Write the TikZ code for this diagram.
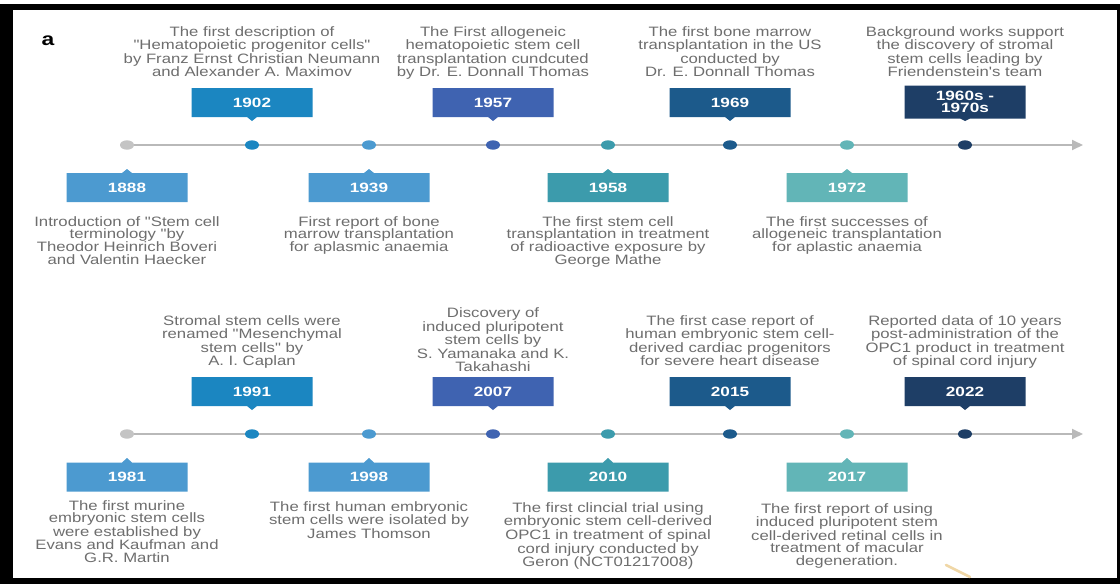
\documentclass[tikz,border=0pt]{standalone}
\usepackage{fontspec}
\setmainfont{Liberation Sans}
\newfontfamily\descfamily[FakeStretch=1.23]{Liberation Sans}
\newfontfamily\yearfamily[FakeStretch=1.27]{Liberation Sans}
\usetikzlibrary{shapes.geometric,shapes.callouts,arrows.meta,backgrounds}

\definecolor{txtgray}{HTML}{6E6E6E}
\definecolor{linegray}{HTML}{B9B9B9}
\definecolor{dotgray}{HTML}{C4C4C4}
\definecolor{cMid}{HTML}{1B86C1}
\definecolor{cLight}{HTML}{4C9AD0}
\definecolor{cIndigo}{HTML}{3F63B1}
\definecolor{cTeal}{HTML}{3C9BAC}
\definecolor{cDark}{HTML}{1C5A8B}
\definecolor{cPale}{HTML}{62B5B7}
\definecolor{cNavy}{HTML}{1E3E66}
\definecolor{pencil}{HTML}{F0D7A6}

\begin{document}
\begin{tikzpicture}[x=1pt,y=-1pt,
  desc/.style={font=\descfamily\fontsize{13.6}{13.5}\selectfont, text=txtgray,
    align=center, inner sep=0pt,
    execute at begin node=\strut, execute at end node=\strut},
  desclow/.style={desc, font=\descfamily\fontsize{13.6}{12.9}\selectfont},
  desctight/.style={desc, font=\descfamily\fontsize{13.6}{12.5}\selectfont},
  yearbox/.style={rectangle callout, fill=#1, minimum width=121pt,
    minimum height=29pt, inner sep=0pt, callout pointer width=10pt,
    text=white, align=center,
    font=\yearfamily\bfseries\fontsize{13.5}{12}\selectfont},
  dot/.style={ellipse, fill=#1, minimum width=14pt, minimum height=9.4pt,
    inner sep=0pt},
  axis/.style={draw=linegray, line width=1.8pt,
    -{Triangle[length=11pt,width=10pt]}},
]
\useasboundingbox (0,0) rectangle (1120,584);

% frame
\begin{pgfonlayer}{background}
  \fill[black] (0,4) rectangle (1120,584);
  \fill[white] (13,10) rectangle (1117,578);
\end{pgfonlayer}

\node[font=\yearfamily\bfseries\fontsize{18}{18}\selectfont, inner sep=0pt]
  (panel) at (48,41) {a};

% ---------------- first timeline (axis at y = 145) ----------------
\node[dot=dotgray] (d0) at (127,145) {};
\node[dot=cMid]    (d1) at (252,145) {};
\node[dot=cLight]  (d2) at (369,145) {};
\node[dot=cIndigo] (d3) at (493,145) {};
\node[dot=cTeal]   (d4) at (608,145) {};
\node[dot=cDark]   (d5) at (730,145) {};
\node[dot=cPale]   (d6) at (847,145) {};
\node[dot=cNavy]   (d7) at (965,145) {};
\coordinate (end1) at (1083,145);
\begin{pgfonlayer}{background}
  \draw[axis] (d0.center) -- (end1);
\end{pgfonlayer}

% tags above the axis
\node[yearbox=cMid, callout absolute pointer={(252,121)}] (y1902) at (252,102.5) {1902};
\node[yearbox=cIndigo, callout absolute pointer={(493,121)}] (y1957) at (493,102.5) {1957};
\node[yearbox=cDark, callout absolute pointer={(730,121)}] (y1969) at (730,102.5) {1969};
\node[yearbox=cNavy, minimum height=33pt, callout absolute pointer={(965,121)}] (y1960) at (965,102) {1960s -\\1970s};

\node[desc, anchor=south] (t1902) at (252,81) {The first description of\\"Hematopoietic progenitor cells"\\by Franz Ernst Christian Neumann\\and Alexander A. Maximov};
\node[desc, anchor=south] (t1957) at (493,81) {The First allogeneic\\hematopoietic stem cell\\transplantation cundcuted\\by Dr. E. Donnall Thomas};
\node[desc, anchor=south] (t1969) at (730,81) {The first bone marrow\\transplantation in the US\\conducted by\\Dr. E. Donnall Thomas};
\node[desc, anchor=south] (t1960) at (965,81) {Background works support\\the discovery of stromal\\stem cells leading by\\Friendenstein's team};

% tags below the axis
\node[yearbox=cLight, callout absolute pointer={(127,169)}] (y1888) at (127,187.5) {1888};
\node[yearbox=cLight, callout absolute pointer={(369,169)}] (y1939) at (369,187.5) {1939};
\node[yearbox=cTeal, callout absolute pointer={(608,169)}] (y1958) at (608,187.5) {1958};
\node[yearbox=cPale, callout absolute pointer={(847,169)}] (y1972) at (847,187.5) {1972};

\node[desclow, anchor=north] (t1888) at (127,216) {Introduction of "Stem cell\\terminology "by\\Theodor Heinrich Boveri\\and Valentin Haecker};
\node[desclow, anchor=north] (t1939) at (369,216) {First report of bone\\marrow transplantation\\for aplasmic anaemia};
\node[desclow, anchor=north] (t1958) at (608,216) {The first stem cell\\transplantation in treatment\\of radioactive exposure by\\George Mathe};
\node[desclow, anchor=north] (t1972) at (847,216) {The first successes of\\allogeneic transplantation\\for aplastic anaemia};

% ---------------- second timeline (axis at y = 434) ----------------
\node[dot=dotgray] (e0) at (127,434) {};
\node[dot=cMid]    (e1) at (252,434) {};
\node[dot=cLight]  (e2) at (369,434) {};
\node[dot=cIndigo] (e3) at (493,434) {};
\node[dot=cTeal]   (e4) at (608,434) {};
\node[dot=cDark]   (e5) at (730,434) {};
\node[dot=cPale]   (e6) at (847,434) {};
\node[dot=cNavy]   (e7) at (965,434) {};
\coordinate (end2) at (1083,434);
\begin{pgfonlayer}{background}
  \draw[axis] (e0.center) -- (end2);
\end{pgfonlayer}

% tags above the axis
\node[yearbox=cMid, callout absolute pointer={(252,410)}] (y1991) at (252,391.5) {1991};
\node[yearbox=cIndigo, callout absolute pointer={(493,410)}] (y2007) at (493,391.5) {2007};
\node[yearbox=cDark, callout absolute pointer={(730,410)}] (y2015) at (730,391.5) {2015};
\node[yearbox=cNavy, callout absolute pointer={(965,410)}] (y2022) at (965,391.5) {2022};

\node[desc, anchor=south] (t1991) at (252,370) {Stromal stem cells were\\renamed "Mesenchymal\\stem cells" by\\A. I. Caplan};
\node[desctight, anchor=south] (t2007) at (493,375) {Discovery of\\induced pluripotent\\stem cells by\\S. Yamanaka and K.\\Takahashi};
\node[desc, anchor=south] (t2015) at (730,370) {The first case report of\\human embryonic stem cell-\\derived cardiac progenitors\\for severe heart disease};
\node[desc, anchor=south] (t2022) at (965,370) {Reported data of 10 years\\post-administration of the\\OPC1 product in treatment\\of spinal cord injury};

% tags below the axis
\node[yearbox=cLight, callout absolute pointer={(127,458)}] (y1981) at (127,477) {1981};
\node[yearbox=cLight, callout absolute pointer={(369,458)}] (y1998) at (369,477) {1998};
\node[yearbox=cTeal, callout absolute pointer={(608,458)}] (y2010) at (608,477) {2010};
\node[yearbox=cPale, callout absolute pointer={(847,458)}] (y2017) at (847,477) {2017};

\node[desctight, anchor=north] (t1981) at (127,500) {The first murine\\embryonic stem cells\\were established by\\Evans and Kaufman and\\G.R. Martin};
\node[desctight, anchor=north] (t1998) at (369,501) {The first human embryonic\\stem cells were isolated by\\James Thomson};
\node[desctight, anchor=north] (t2010) at (608,502) {The first clincial trial using\\embryonic stem cell-derived\\OPC1 in treatment of spinal\\cord injury conducted by\\Geron (NCT01217008)};
\node[desctight, anchor=north] (t2017) at (847,503) {The first report of using\\induced pluripotent stem\\cell-derived retinal cells in\\treatment of macular\\degeneration.};

% faint pencil stroke near the lower edge
\draw[pencil, line width=2.5pt, line cap=round] (946,565) -- (970,577);
\end{tikzpicture}
\end{document}
